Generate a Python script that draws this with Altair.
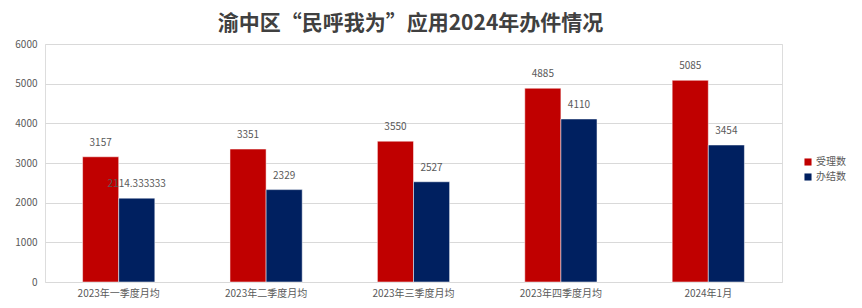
import altair as alt
import pandas as pd

categories = ["2023年一季度月均", "2023年二季度月均", "2023年三季度月均", "2023年四季度月均", "2024年1月"]
series = ["受理数", "办结数"]
accepted = [3157, 3351, 3550, 4885, 5085]
completed = [2114.333333, 2329, 2527, 4110, 3454]
y_ticks = [0, 1000, 2000, 3000, 4000, 5000, 6000]

rows = []
for c, a, b in zip(categories, accepted, completed):
    rows.append({"cat": c, "series": series[0], "value": a, "label": f"{a:g}" if a == int(a) else f"{a:.6f}"})
    rows.append({"cat": c, "series": series[1], "value": b, "label": f"{int(b)}" if b == int(b) else f"{b:.6f}"})
df = pd.DataFrame(rows)

font = "Noto Sans CJK SC"
x = alt.X("cat:N", sort=categories, title=None,
          scale=alt.Scale(paddingInner=0.51, paddingOuter=0.255),
          axis=alt.Axis(labelAngle=0, labelFont=font, labelFontSize=10, labelColor="#595959",
                        domain=False, ticks=False, labelPadding=6, grid=False))
xo = alt.XOffset("series:N", sort=series, scale=alt.Scale(paddingInner=0, paddingOuter=0))
y = alt.Y("value:Q", title=None,
          scale=alt.Scale(domain=[0, 6000], nice=False),
          axis=alt.Axis(values=y_ticks, format="d", labelFont=font, labelFontSize=10, labelColor="#595959",
                        domain=False, ticks=False, labelPadding=8,
                        gridColor="#d9d9d9", gridWidth=1))

color = alt.Color("series:N", sort=series,
                  scale=alt.Scale(domain=series, range=["#C00000", "#002060"]),
                  legend=alt.Legend(title=None, orient="none", legendX=758, legendY=113,
                                    symbolType="square", symbolSize=50, symbolStrokeWidth=0,
                                    labelFont=font, labelFontSize=10, labelColor="#595959",
                                    rowPadding=5, labelOffset=3))

bars = alt.Chart(df).mark_bar(stroke="white", strokeWidth=0.5).encode(x=x, xOffset=xo, y=y, color=color)
text = alt.Chart(df).mark_text(dy=-14, font=font, fontSize=10, color="#595959").encode(
    x=x, xOffset=xo, y=y, text="label:N")

chart = (bars + text).properties(
    width=737, height=238,
    title=alt.TitleParams("渝中区“民呼我为”应用2024年办件情况", font=font, fontSize=21,
                          fontWeight="bold", color="#404040", anchor="middle", offset=5, dx=-3),
    autosize=alt.AutoSizeParams(type="none"),
    padding={"left": 45, "top": 44, "right": 80, "bottom": 26},
).configure_view(stroke=None).configure(background="white")

chart.save("out.html", embed_options={"renderer": "svg", "actions": False})
